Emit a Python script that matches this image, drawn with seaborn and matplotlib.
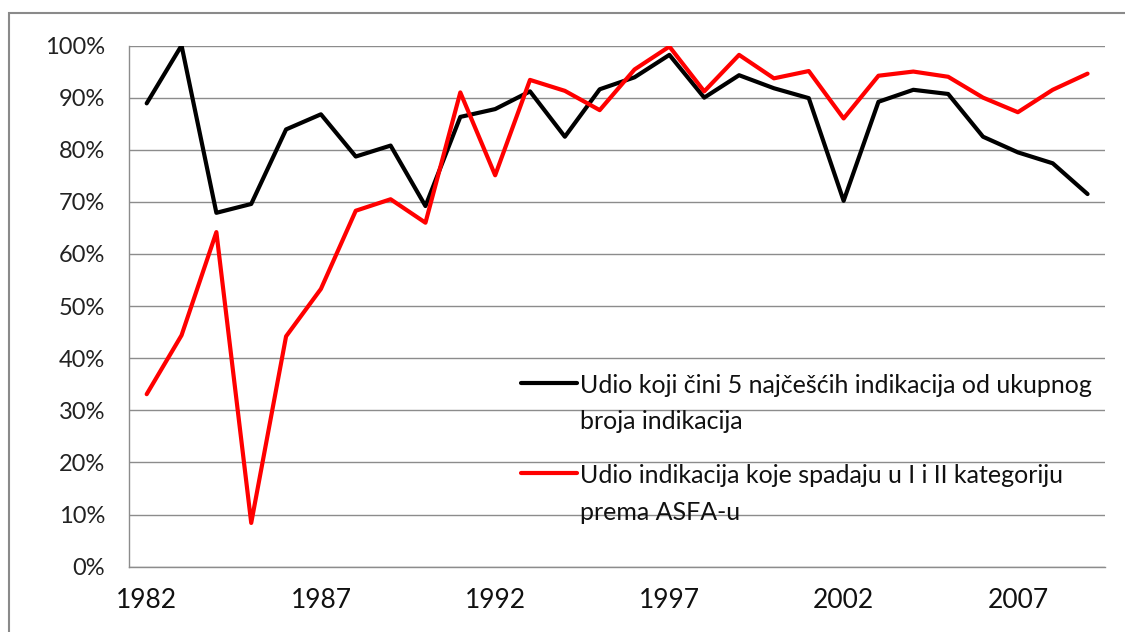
import pandas as pd
import matplotlib
matplotlib.use("Agg")
import matplotlib.pyplot as plt
from matplotlib.patches import Rectangle
from matplotlib.ticker import PercentFormatter
import seaborn as sns

#%% Podaci

godine = list(range(1982, 2010))

udio_top5 = [88.9, 100.0, 67.9, 69.6, 83.9, 86.8, 78.7, 80.8, 69.2, 86.3,
             87.8, 91.2, 82.5, 91.6, 93.9, 98.2, 90.0, 94.3, 91.8, 89.9,
             70.2, 89.2, 91.5, 90.7, 82.5, 79.5, 77.4, 71.5]

udio_asfa = [33.1, 44.4, 64.2, 8.4, 44.2, 53.3, 68.3, 70.5, 66.0, 91.0,
             75.1, 93.4, 91.3, 87.6, 95.4, 99.8, 91.2, 98.2, 93.7, 95.1,
             86.0, 94.2, 95.0, 94.0, 90.0, 87.2, 91.5, 94.6]

oznake_x = [1982, 1987, 1992, 1997, 2002, 2007]

naziv_top5 = "Udio koji čini 5 najčešćih indikacija od ukupnog\nbroja indikacija"
naziv_asfa = "Udio indikacija koje spadaju u I i II kategoriju\nprema ASFA-u"

dados = pd.DataFrame({
    'godina': godine * 2,
    'udio': udio_top5 + udio_asfa,
    'serija': [naziv_top5] * len(godine) + [naziv_asfa] * len(godine),
})

#%% Graf

sns.set_style("white")
plt.rcParams['font.family'] = ['Lato', 'DejaVu Sans']

siva = '#8c8c8c'

fig = plt.figure(figsize=(11.25, 6.32), dpi=100)
ax = fig.add_axes([0.1149, 0.1033, 0.8673, 0.8247])

sns.lineplot(data=dados, x='godina', y='udio', hue='serija',
             palette=['#000000', '#ff0000'], linewidth=3, legend=False, ax=ax)
for linija in ax.lines:
    linija.set_solid_joinstyle('round')
    linija.set_solid_capstyle('round')

ax.set_xlim(godine[0] - 0.5, godine[-1] + 0.5)
ax.set_ylim(0, 100)
ax.set_yticks(range(0, 101, 10))
ax.yaxis.set_major_formatter(PercentFormatter(decimals=0))
ax.set_xticks(oznake_x)
ax.set_xticklabels([str(g) for g in oznake_x])
ax.set_xlabel('')
ax.set_ylabel('')

ax.yaxis.grid(True, color=siva, linewidth=1.0)
ax.xaxis.grid(False)
ax.set_axisbelow(True)
for strana in ['top', 'right']:
    ax.spines[strana].set_visible(False)
for strana in ['left', 'bottom']:
    ax.spines[strana].set_color(siva)
    ax.spines[strana].set_linewidth(1.0)

ax.tick_params(axis='y', length=6.5, width=1, color=siva, pad=11,
               labelsize=17, labelcolor='#222222')
ax.tick_params(axis='x', length=0, pad=15, labelsize=19, labelcolor='#111111')

leg = ax.legend(ax.lines[:2], [naziv_top5, naziv_asfa], loc='upper left',
                bbox_to_anchor=(0.4015, 0.370), frameon=False, borderpad=0,
                borderaxespad=0, fontsize=18, handlelength=2.25,
                handletextpad=0.1, labelspacing=1.25)
for t in leg.get_texts():
    t.set_linespacing(1.7)
    t.set_color('#111111')
for kolona in leg._legend_handle_box.get_children():
    for red in kolona.get_children():
        red.align = 'top'

# okvir grafa (Excel)
fig.add_artist(Rectangle((0.008, -0.1), 1.2, 0.9794 + 0.1,
                         transform=fig.transFigure, fill=False,
                         edgecolor='#8a8a8a', linewidth=1.5))

fig.savefig('out.png', dpi=100)
